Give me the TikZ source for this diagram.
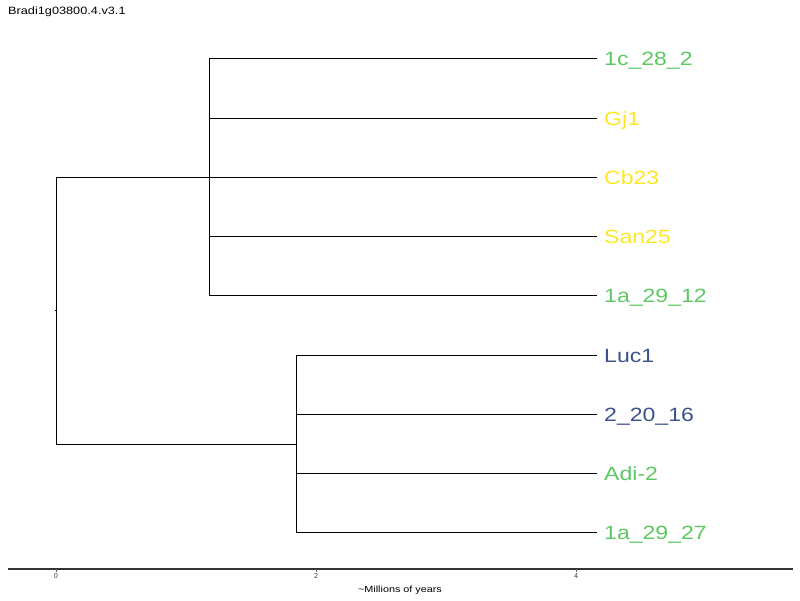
\documentclass[tikz,border=0pt]{standalone}
\usepackage{fontspec}
\setmainfont{Liberation Sans}
\usepackage{graphicx}
\usetikzlibrary{positioning, calc}
\definecolor{cladegreen}{HTML}{5DC863}
\definecolor{cladeyellow}{HTML}{FDE725}
\definecolor{cladeblue}{HTML}{3B528B}
\newcommand{\wide}[1]{\scalebox{1.2}[1]{#1}}

\begin{document}
\begin{tikzpicture}[
    x=1pt, y=-1pt,
    branch/.style={line width=0.8pt, black},
    leaf/.style={anchor=base west, inner sep=0pt, font=\fontsize{19.2}{19.2}\selectfont},
    axisline/.style={line width=1.1pt, black!80},
    ticklabel/.style={font=\fontsize{7.2}{7.2}\selectfont, text=black!75, inner sep=0pt},
    axistitle/.style={font=\fontsize{9}{9}\selectfont, inner sep=0pt}
]
\useasboundingbox (0,0) rectangle (800,600);

% Titel
\node[anchor=base west, inner sep=0pt, font=\fontsize{10.6}{10.6}\selectfont] (title) at (8,14) {\wide{Bradi1g03800.4.v3.1}};

% innere Knoten
\coordinate (root) at (56,310.5);
\coordinate (upper) at (209,177);
\coordinate (lower) at (296,444);

% Blattspitzen
\coordinate (tip1) at (597,58);
\coordinate (tip2) at (597,118);
\coordinate (tip3) at (597,177);
\coordinate (tip4) at (597,236);
\coordinate (tip5) at (597,295);
\coordinate (tip6) at (597,355);
\coordinate (tip7) at (597,414);
\coordinate (tip8) at (597,473);
\coordinate (tip9) at (597,532);

% Blattnamen
\node[leaf, text=cladegreen] (lab1) at ($(tip1)+(7,7.5)$) {\wide{1c\_28\_2}};
\node[leaf, text=cladeyellow] (lab2) at ($(tip2)+(7,7.5)$) {\wide{Gj1}};
\node[leaf, text=cladeyellow] (lab3) at ($(tip3)+(7,7.5)$) {\wide{Cb23}};
\node[leaf, text=cladeyellow] (lab4) at ($(tip4)+(7,7.5)$) {\wide{San25}};
\node[leaf, text=cladegreen] (lab5) at ($(tip5)+(7,7.5)$) {\wide{1a\_29\_12}};
\node[leaf, text=cladeblue] (lab6) at ($(tip6)+(7,7.5)$) {\wide{Luc1}};
\node[leaf, text=cladeblue] (lab7) at ($(tip7)+(7,7.5)$) {\wide{2\_20\_16}};
\node[leaf, text=cladegreen] (lab8) at ($(tip8)+(7,7.5)$) {\wide{Adi-2}};
\node[leaf, text=cladegreen] (lab9) at ($(tip9)+(7,7.5)$) {\wide{1a\_29\_27}};

% Wurzel
\draw[branch] ($(root)+(-1.5,0)$) -- (root);
\draw[branch] (root) |- (upper);
\draw[branch] (root) |- (lower);

% obere Gruppe
\draw[branch] (upper) |- (tip1);
\draw[branch] (upper) |- (tip2);
\draw[branch] (upper) -- (tip3);
\draw[branch] (upper) |- (tip4);
\draw[branch] (upper) |- (tip5);

% untere Gruppe
\draw[branch] (lower) |- (tip6);
\draw[branch] (lower) |- (tip7);
\draw[branch] (lower) |- (tip8);
\draw[branch] (lower) |- (tip9);

% Zeitachse
\coordinate (axleft) at (8,569);
\coordinate (axright) at (793,569);
\draw[axisline] (axleft) -- (axright);
\coordinate (t0) at (56,569);
\coordinate (t2) at (316,569);
\coordinate (t4) at (576,569);
\draw[black!60, line width=0.5pt] (t0) -- ++(0,2.5);
\draw[black!60, line width=0.5pt] (t2) -- ++(0,2.5);
\draw[black!60, line width=0.5pt] (t4) -- ++(0,2.5);
\node[ticklabel, anchor=north] (l0) at ($(t0)+(0,4)$) {0};
\node[ticklabel, anchor=north] (l2) at ($(t2)+(0,4)$) {2};
\node[ticklabel, anchor=north] (l4) at ($(t4)+(0,4)$) {4};
\node[axistitle, anchor=base] (xlab) at (400,592.5) {\wide{\textasciitilde Millions of years}};

\end{tikzpicture}
\end{document}
